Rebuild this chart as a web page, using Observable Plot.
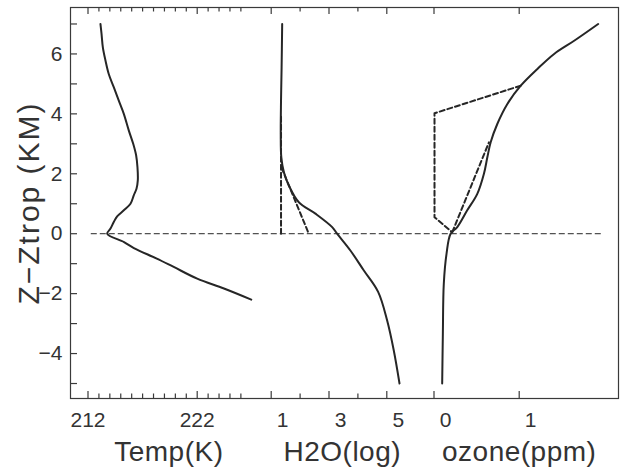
<!DOCTYPE html>
<html>
<head>
<meta charset="utf-8">
<script src="https://cdn.jsdelivr.net/npm/d3@7"></script>
<script src="https://cdn.jsdelivr.net/npm/@observablehq/plot@0.6"></script>
<style>
  html, body { margin: 0; padding: 0; background: #fff; }
</style>
</head>
<body>
<div id="chart"></div>
<script>
// ---------- data ----------
// Temperature profile: height relative to tropopause (km) and temperature (K)
const tempZ = [7.0, 6.67, 6.22, 5.78, 5.33, 4.89, 4.44, 4.0, 3.44, 3.0, 2.61, 2.22, 1.78, 1.5, 1.28, 1.0, 0.78, 0.58, 0.39, 0.17, 0, -0.28, -0.48, -0.83, -1.11, -1.5, -1.83, -2.2];
const tempK = [213.14, 213.24, 213.36, 213.6, 213.9, 214.36, 214.82, 215.28, 215.74, 216.14, 216.41, 216.53, 216.56, 216.44, 216.19, 215.89, 215.28, 214.67, 214.36, 214.06, 213.76, 215.3, 216.2, 218.3, 219.85, 222.0, 224.45, 226.95];

// Water vapour profile (log units)
const h2oZ = [7.0, 5.55, 4.44, 3.33, 2.55, 2.05, 1.61, 1.05, 0.67, 0.22, 0, -0.56, -1.22, -1.94, -2.89, -3.89, -5.0];
const h2oV = [1.38, 1.36, 1.34, 1.33, 1.35, 1.44, 1.61, 1.955, 2.53, 3.11, 3.28, 3.74, 4.20, 4.70, 5.01, 5.24, 5.44];
// Water vapour idealised (dashed) profiles
const h2oStepZ = [3.9, 0];
const h2oStepV = [1.34, 1.34];
const h2oRampZ = [2.2, 0];
const h2oRampV = [1.36, 2.30];

// Ozone profile (ppm)
const ozoneZ = [7.0, 6.44, 6.0, 5.5, 4.94, 4.33, 3.67, 3.05, 2.55, 2.0, 1.33, 0.78, 0.22, 0, -0.67, -1.67, -3.33, -5.0];
const ozoneV = [1.927, 1.645, 1.41, 1.214, 1.018, 0.861, 0.744, 0.665, 0.626, 0.586, 0.508, 0.39, 0.273, 0.195, 0.147, 0.115, 0.104, 0.096];
// Ozone idealised (dashed) profiles
const ozBoxZ = [4.94, 4.02, 0.55, 0.05];
const ozBoxV = [1.018, 0.006, 0.006, 0.214];
const ozRampZ = [0.05, 3.05];
const ozRampV = [0.214, 0.645];

// Tropopause reference line (z = 0) extent, from Temp (K) to ozone (ppm)
const zeroLineZ = 0;
const zeroFromTemp = 212.3;
const zeroToOzone = 1.97;

// Tick values and labels
const tempMajor = [212, 222];
const tempMinor = [213, 214, 215, 216, 217, 218, 219, 220, 221, 223, 224, 225, 226];
const h2oMajor = [1, 3, 5];
const h2oMinor = [2, 4];
const ozoneMajor = [0, 1];
const yLabelTicks = [-4, -2, 0, 2, 4, 6];
const yAllTicks = [-5, -4, -3, -2, -1, 0, 1, 2, 3, 4, 5, 6, 7];

const titleTemp = "Temp(K)";
const titleH2O = "H2O(log)";
const titleOzone = "ozone(ppm)";
const titleY = "Z\u2212Ztrop (KM)";
// value at which each panel title is centred (in that panel's own units)
const titleAtTemp = 219.4, titleAtH2O = 3.46, titleAtOzone = 1.0;

// ---------- layout: three panels share one horizontal track ----------
// each panel maps its own unit onto the shared track (origin value, track position, track units per unit)
const panels = {
  temp:  {v0: 212, t0: 17.5, k: 10.92},
  h2o:   {v0: 1,   t0: 200.7, k: 28.9},
  ozone: {v0: 0,   t0: 363.5, k: 85.2}
};
const track = (p, v) => panels[p].t0 + (v - panels[p].v0) * panels[p].k;
const trackDomain = [0, 548];

const rows = (p, zs, vs) => zs.map((z, i) => ({z, t: track(p, vs[i])}));

const tempRows = rows("temp", tempZ, tempK);
const h2oRows = rows("h2o", h2oZ, h2oV);
const h2oStep = rows("h2o", h2oStepZ, h2oStepV);
const h2oRamp = rows("h2o", h2oRampZ, h2oRampV);
const ozRows = rows("ozone", ozoneZ, ozoneV);
const ozBox = rows("ozone", ozBoxZ, ozBoxV);
const ozRamp = rows("ozone", ozRampZ, ozRampV);

const labelMap = new Map();
const tempLabelT = tempMajor.map(v => { const t = track("temp", v); labelMap.set(t, String(v)); return t; });
const otherLabelT = [
  ...h2oMajor.map(v => { const t = track("h2o", v); labelMap.set(t, String(v)); return t; }),
  ...ozoneMajor.map(v => { const t = track("ozone", v); labelMap.set(t, String(v)); return t; })
];
const majorT = [...tempLabelT, ...otherLabelT];
const minorT = [...tempMinor.map(v => track("temp", v)), ...h2oMinor.map(v => track("h2o", v))];

const titles = [
  {t: track("temp", titleAtTemp), label: titleTemp},
  {t: track("h2o", titleAtH2O), label: titleH2O},
  {t: track("ozone", titleAtOzone), label: titleOzone}
];

const ink = "#262626";
const axisInk = "#3a3a3a";
const fontFamily = "'Liberation Sans', Arial, sans-serif";
const W = 621, H = 467, ML = 70, MR = 3, MT = 7, MB = 69;
const FW = W - ML - MR, FH = H - MT - MB;
const MAJ = 7, MIN = 4.5;

const chart = Plot.plot({
  width: W,
  height: H,
  marginLeft: ML,
  marginRight: MR,
  marginTop: MT,
  marginBottom: MB,
  style: {fontFamily, fontSize: "21px", color: "#333", background: "#fff"},
  x: {domain: trackDomain, label: null, axis: null},
  y: {domain: [-5.5, 7.55], label: null, axis: null},
  marks: [
    Plot.frame({stroke: axisInk, strokeWidth: 1.2}),
    // y axis labels
    Plot.axisY(yLabelTicks, {anchor: "left", tickSize: 0, tickPadding: 8, label: null, fontSize: 21, fill: "#333"}),
    // inward ticks on the left edge
    Plot.ruleY(yAllTicks, {insetRight: FW - MAJ, stroke: axisInk, strokeWidth: 1.2}),
    // inward ticks at bottom and top
    Plot.ruleX(majorT, {insetTop: FH - MAJ, stroke: axisInk, strokeWidth: 1.2}),
    Plot.ruleX(minorT, {insetTop: FH - MIN, stroke: axisInk, strokeWidth: 1.2}),
    Plot.ruleX(majorT, {insetBottom: FH - MAJ, stroke: axisInk, strokeWidth: 1.2}),
    Plot.ruleX(minorT, {insetBottom: FH - MIN, stroke: axisInk, strokeWidth: 1.2}),
    // x tick labels
    Plot.axisX(tempLabelT, {anchor: "bottom", tickSize: 0, tickPadding: 14, label: null, fontSize: 21, fill: "#333", tickFormat: t => labelMap.get(t)}),
    Plot.axisX(otherLabelT, {anchor: "bottom", tickSize: 0, tickPadding: 14, dx: 11.5, label: null, fontSize: 21, fill: "#333", tickFormat: t => labelMap.get(t)}),
    // tropopause reference line
    Plot.ruleY([zeroLineZ], {x1: track("temp", zeroFromTemp), x2: track("ozone", zeroToOzone), stroke: ink, strokeWidth: 1, strokeDasharray: "6,3"}),
    // idealised profiles (dashed)
    Plot.line(h2oStep, {x: "t", y: "z", stroke: ink, strokeWidth: 2, strokeDasharray: "5,3"}),
    Plot.line(h2oRamp, {x: "t", y: "z", stroke: ink, strokeWidth: 2, strokeDasharray: "5,3"}),
    Plot.line(ozBox, {x: "t", y: "z", stroke: ink, strokeWidth: 2, strokeDasharray: "5,3"}),
    Plot.line(ozRamp, {x: "t", y: "z", stroke: ink, strokeWidth: 2, strokeDasharray: "5,3"}),
    // observed profiles (solid)
    Plot.line(tempRows, {x: "t", y: "z", stroke: ink, strokeWidth: 2, curve: "catmull-rom"}),
    Plot.line(h2oRows, {x: "t", y: "z", stroke: ink, strokeWidth: 2, curve: "catmull-rom"}),
    Plot.line(ozRows, {x: "t", y: "z", stroke: ink, strokeWidth: 2, curve: "catmull-rom"}),
    // panel titles
    Plot.text(titles, {x: "t", text: "label", frameAnchor: "bottom", dy: 62, lineAnchor: "bottom", fontSize: 28, fill: "#333"}),
    // y title
    Plot.text([titleY], {frameAnchor: "left", dx: -41, rotate: -90, textAnchor: "middle", lineAnchor: "middle", fontSize: 30, fill: "#333"})
  ]
});

d3.select(chart).selectAll("text").filter(function () { return this.textContent === titleY; })
  .style("letter-spacing", "2px");
d3.select(chart).selectAll("text").filter(function () { return [titleTemp, titleH2O, titleOzone].includes(this.textContent); })
  .style("letter-spacing", "0.5px");

document.getElementById("chart").appendChild(chart);
</script>
</body>
</html>
